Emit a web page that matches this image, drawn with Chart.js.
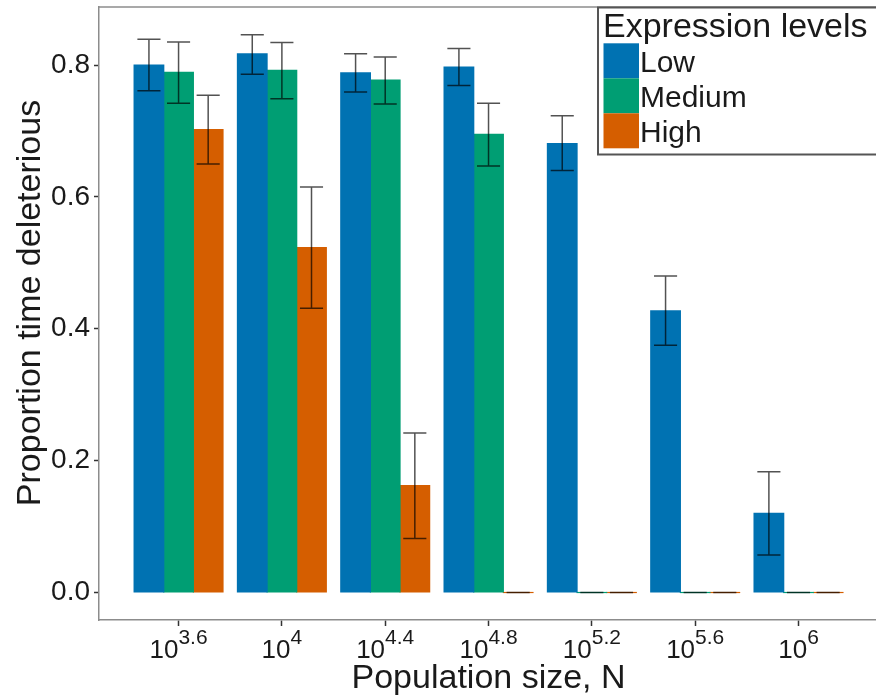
<!DOCTYPE html>
<html>
<head>
<meta charset="utf-8">
<script src="https://cdn.jsdelivr.net/npm/chart.js@4.4.1/dist/chart.umd.min.js"></script>
<style>
  html, body { margin: 0; padding: 0; background: #fff; }
  canvas { display: block; }
</style>
</head>
<body>
<canvas id="chart" width="876" height="696"></canvas>
<script>
// x categories: population size N = 10^exponent
const exponents = ['3.6', '4', '4.4', '4.8', '5.2', '5.6', '6'];
const levelNames = ['Low', 'Medium', 'High'];
const levelColors = ['#0072B2', '#009E73', '#D55E00'];

// proportion of time deleterious, with error bar limits
const lowMean  = [0.800, 0.817, 0.788, 0.797, 0.681, 0.427, 0.120];
const lowLower = [0.761, 0.786, 0.759, 0.769, 0.640, 0.375, 0.057];
const lowUpper = [0.839, 0.846, 0.817, 0.825, 0.723, 0.480, 0.183];

const mediumMean  = [0.789, 0.792, 0.777, 0.695, 0, 0, 0];
const mediumLower = [0.742, 0.749, 0.741, 0.647, 0, 0, 0];
const mediumUpper = [0.835, 0.834, 0.812, 0.742, 0, 0, 0];

const highMean  = [0.702, 0.523, 0.162, 0, 0, 0, 0];
const highLower = [0.650, 0.431, 0.082, 0, 0, 0, 0];
const highUpper = [0.754, 0.615, 0.242, 0, 0, 0, 0];

const yTicks = [0, 0.2, 0.4, 0.6, 0.8];

const FONT = "'Liberation Sans', Arial, sans-serif";
const TEXT = '#1a1a1a';

function toPoints(values) {
    return values.map((v, i) => ({ x: i, y: v }));
}

const means = [lowMean, mediumMean, highMean];
const lowers = [lowLower, mediumLower, highLower];
const uppers = [lowUpper, mediumUpper, highUpper];

const datasets = levelNames.map((name, k) => ({
    label: name,
    data: toPoints(means[k]),
    lower: lowers[k],
    upper: uppers[k],
    backgroundColor: levelColors[k],
    borderWidth: 0,
    inflateAmount: 0.6,
    categoryPercentage: 0.86,
    barPercentage: 1.0
}));

// error bars, panel border, superscript ticks, titles and legend
const decorations = {
    id: 'decorations',
    afterDatasetsDraw(chart) {
        const ctx = chart.ctx;
        const y = chart.scales.y;
        ctx.save();
        ctx.strokeStyle = 'rgba(0,0,0,0.68)';
        ctx.lineWidth = 1.5;
        chart.data.datasets.forEach((ds, i) => {
            chart.getDatasetMeta(i).data.forEach((bar, j) => {
                const lo = y.getPixelForValue(ds.lower[j]);
                const hi = y.getPixelForValue(ds.upper[j]);
                const half = bar.width * 0.39;
                ctx.beginPath();
                ctx.moveTo(bar.x, lo); ctx.lineTo(bar.x, hi);
                ctx.moveTo(bar.x - half, lo); ctx.lineTo(bar.x + half, lo);
                ctx.moveTo(bar.x - half, hi); ctx.lineTo(bar.x + half, hi);
                ctx.stroke();
            });
        });
        ctx.restore();
    },
    afterDraw(chart) {
        const ctx = chart.ctx;
        const area = chart.chartArea;
        const xs = chart.scales.x;
        ctx.save();

        // top border of the panel
        ctx.strokeStyle = '#8c8c8c';
        ctx.lineWidth = 1.5;
        ctx.beginPath();
        ctx.moveTo(area.left, area.top);
        ctx.lineTo(area.right, area.top);
        ctx.stroke();

        // x tick labels as 10^exp
        ctx.fillStyle = TEXT;
        ctx.textAlign = 'left';
        ctx.textBaseline = 'alphabetic';
        exponents.forEach((e, i) => {
            const px = xs.getPixelForValue(i);
            ctx.font = `26px ${FONT}`;
            const wBase = ctx.measureText('10').width;
            ctx.font = `21px ${FONT}`;
            const wExp = ctx.measureText(e).width;
            const start = px - (wBase + wExp) / 2;
            ctx.font = `26px ${FONT}`;
            ctx.fillText('10', start, area.bottom + 38);
            ctx.font = `21px ${FONT}`;
            ctx.fillText(e, start + wBase, area.bottom + 24);
        });

        // axis titles
        ctx.font = `34px ${FONT}`;
        ctx.textAlign = 'center';
        ctx.fillText('Population size, N', xs.getPixelForValue(3), 688);
        ctx.translate(40, 303);
        ctx.rotate(-Math.PI / 2);
        ctx.fillText('Proportion time deleterious', 0, 0);
        ctx.setTransform(1, 0, 0, 1, 0, 0);

        // legend box
        const lx = 598, ly = 7.5;
        ctx.fillStyle = '#fff';
        ctx.fillRect(lx, ly, 300, 147);
        ctx.strokeStyle = '#555';
        ctx.lineWidth = 2;
        ctx.strokeRect(lx, ly, 300, 147);
        ctx.fillStyle = TEXT;
        ctx.textAlign = 'left';
        ctx.font = `34px ${FONT}`;
        ctx.fillText('Expression levels', 603, 37);
        ctx.font = `30px ${FONT}`;
        chart.data.datasets.forEach((ds, k) => {
            const top = 43.3 + k * 35;
            ctx.fillStyle = ds.backgroundColor;
            ctx.fillRect(603.5, top, 35.5, 35);
            ctx.fillStyle = TEXT;
            ctx.fillText(ds.label, 640, top + 28.4);
        });
        ctx.restore();
    }
};

new Chart(document.getElementById('chart'), {
    type: 'bar',
    data: { datasets },
    plugins: [decorations],
    options: {
        responsive: false,
        devicePixelRatio: 1,
        animation: false,
        layout: { padding: { top: 7, left: 0, right: 0, bottom: 0 } },
        plugins: {
            legend: { display: false },
            tooltip: { enabled: false }
        },
        scales: {
            x: {
                type: 'linear',
                min: -0.77,
                max: 6.75,
                offset: false,
                afterBuildTicks: s => { s.ticks = exponents.map((_, i) => ({ value: i })); },
                afterFit: s => { s.height = 76; s.paddingLeft = 0; s.paddingRight = 0; },
                ticks: { callback: () => '' },
                grid: {
                    display: true, offset: false, drawOnChartArea: false, drawTicks: true,
                    tickLength: 6, tickColor: '#333', tickWidth: 1.5
                },
                border: { display: true, color: '#8c8c8c', width: 1.5 }
            },
            y: {
                min: -0.0417,
                max: 0.888,
                afterBuildTicks: s => { s.ticks = yTicks.map(v => ({ value: v })); },
                afterFit: s => { s.width = 99; s.paddingTop = 0; s.paddingBottom = 0; },
                ticks: {
                    font: { size: 28, family: FONT },
                    color: TEXT,
                    padding: 4,
                    callback: v => Number(v).toFixed(1)
                },
                grid: {
                    display: true, drawOnChartArea: false, drawTicks: true,
                    tickLength: 5, tickColor: '#333', tickWidth: 1.5
                },
                border: { display: true, color: '#8c8c8c', width: 1.5 }
            }
        }
    }
});
</script>
</body>
</html>
